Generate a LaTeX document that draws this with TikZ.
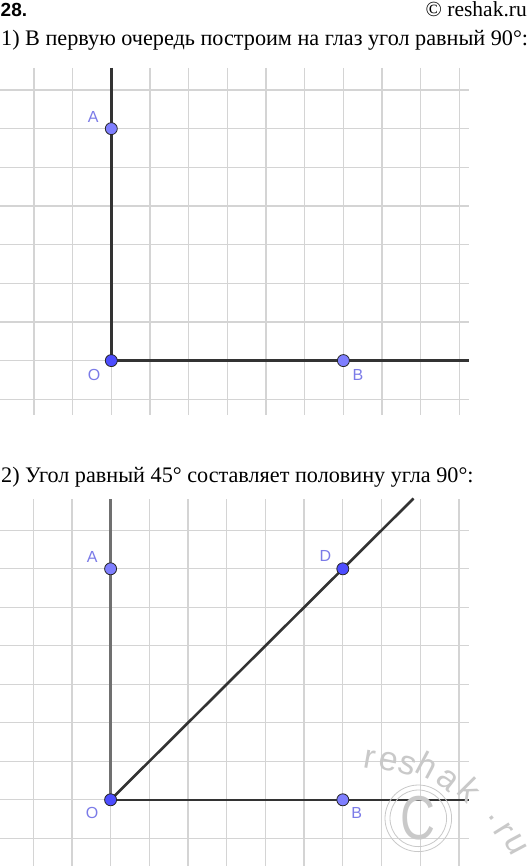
\documentclass[tikz,border=0pt]{standalone}
\usepackage{fontspec}
\setmainfont{Liberation Serif}
\newfontfamily\lblfont{Liberation Sans}
\definecolor{gridc}{HTML}{D4D4D4}
\definecolor{axisc}{HTML}{333333}
\definecolor{axisg}{HTML}{707070}
\definecolor{ptlight}{HTML}{7F7FFF}
\definecolor{ptdark}{HTML}{4D4DFF}
\definecolor{lblc}{HTML}{7B7BE8}
\definecolor{wmc}{HTML}{C9C9C9}
\begin{document}
\begin{tikzpicture}[x=1pt,y=-1pt,
  gridline/.style={gridc, line width=1.3pt},
  axisline/.style={axisc, line width=2.6pt},
  axisgray/.style={axisg, line width=2.3pt},
  pt/.style={circle, draw=black!85, line width=0.8pt, minimum size=12pt, inner sep=0pt},
  ptA/.style={pt, fill=ptlight},
  ptD/.style={pt, fill=ptdark},
  lbl/.style={text=lblc, font=\lblfont\fontsize{16}{16}\selectfont, inner sep=0pt},
  bodytext/.style={anchor=base west, inner sep=0pt, font=\fontsize{22.2}{22.2}\selectfont},
  wmletter/.style={text=wmc, inner sep=0pt, anchor=center, font=\lblfont\fontsize{34}{34}\selectfont}
]
\useasboundingbox (0,0) rectangle (531,866);
\fill[white] (0,0) rectangle (531,866);

% header
\node[anchor=base west, inner sep=0pt, font=\lblfont\bfseries\fontsize{19}{19}\selectfont] (num) at (0.5,16.3) {28.};
\node[anchor=base east, inner sep=0pt, font=\fontsize{21.5}{21.5}\selectfont] (copy) at (527,16.7) {© reshak.ru};
\node[bodytext] (t1) at (1,45.7) {1) В первую очередь построим на глаз угол равный 90°:};
\node[bodytext] (t2) at (1,482.2) {2) Угол равный 45° составляет половину угла 90°:};

% grid 1
\foreach \j in {0,...,11} \draw[gridline] ({33.9+38.69*\j},68) -- ({33.9+38.69*\j},415);
\foreach \i in {0,...,8} \draw[gridline] (0,{90+38.65*\i}) -- (469,{90+38.65*\i});

% grid 2
\foreach \j in {0,...,11} \draw[gridline] ({33.2+38.7*\j},499) -- ({33.2+38.7*\j},866);
\foreach \i in {0,...,8} \draw[gridline] (0,{530.3+38.5*\i}) -- (469,{530.3+38.5*\i});

% figure 1
\coordinate (T1) at (111.3,68);
\coordinate (R1) at (469,360.6);
\coordinate (O1c) at (111.3,360.6);
\draw[axisline] (T1) -- (O1c) -- (R1);
\node[ptA] (A1) at (111.3,128.65) {};
\node[ptD] (O1) at (O1c) {};
\node[ptA] (B1) at (343.4,360.6) {};
\node[lbl] (lA1) at (93.3,116.7) {A};
\node[lbl] (lO1) at (94.1,374.5) {O};
\node[lbl] (lB1) at (357.9,374.5) {B};

% figure 2
\coordinate (T2) at (110.6,499);
\coordinate (R2) at (469,799.8);
\coordinate (E2) at (413.5,498.5);
\coordinate (O2c) at (110.6,799.8);
\draw[axisgray] (T2) -- (O2c);
\draw[axisline] (O2c) -- (R2);
\draw[axisline] (O2c) -- (E2);
\node[ptA] (A2) at (110.6,568.8) {};
\node[ptD] (D2) at (342.8,568.8) {};
\node[ptD] (O2) at (O2c) {};
\node[ptA] (B2) at (342.8,799.8) {};
\node[lbl] (lA2) at (92.1,556.7) {A};
\node[lbl] (lD2) at (325.5,555.5) {D};
\node[lbl] (lO2) at (92.1,812.8) {O};
\node[lbl] (lB2) at (356.6,812.8) {B};

% watermark
\draw[wmc, line width=0.8pt] (418.3,818.3) circle (33.3);
\draw[wmc, line width=0.8pt] (418.3,818.3) circle (28.3);
\node[text=wmc, inner sep=0pt, font=\lblfont\fontsize{62}{62}\selectfont] (wmC) at (418.3,817.7) {\scalebox{0.78}[1]{C}};
\foreach \ch/\px/\py/\rot [count=\k] in {r/370/759/-10, e/389/761.7/-12, s/407.3/765.7/-18, h/427.3/765/-28, a/447.3/780.7/-38, k/470.7/790/-45, ./491.7/818.3/-52, r/503.5/830/-58, u/515.5/845/-62}
  \node[wmletter, rotate=\rot] (wm\k) at (\px,\py) {\ch};
\end{tikzpicture}
\end{document}
